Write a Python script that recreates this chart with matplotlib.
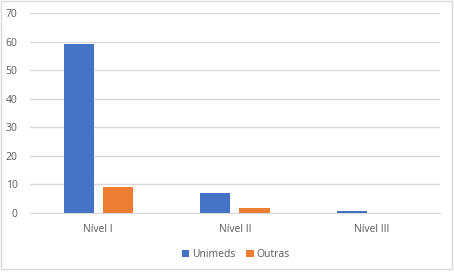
import numpy as np
import matplotlib
matplotlib.use('Agg')
import matplotlib.pyplot as plt
from matplotlib.patches import Rectangle

categorias = ['Nível I', 'Nível II', 'Nível III']
unimeds = [59, 7, 0.6]
outras = [9, 1.6, 0]

plt.rcParams['font.family'] = ['Open Sans', 'DejaVu Sans']

fig = plt.figure(figsize=(4.54, 2.72), dpi=100)
ax = fig.add_axes([0.066, 0.217, 0.903, 0.735])

x = np.arange(len(categorias))
w = 0.22
ax.bar(x - 0.143, unimeds, w, color='#4472C4', label='Unimeds', zorder=3)
ax.bar(x + 0.143, outras, w, color='#ED7D31', label='Outras', zorder=3)

ax.set_xlim(-0.5, 2.5)
ax.set_ylim(0, 70)
ax.set_yticks(range(0, 71, 10))
ax.set_xticks(x)
ax.set_xticklabels(categorias)
ax.grid(axis='y', color='#D9D9D9', linewidth=1, zorder=0)
for s in ['top', 'right', 'left']:
    ax.spines[s].set_visible(False)
ax.spines['bottom'].set_color('#D9D9D9')
ax.tick_params(axis='both', length=0, labelsize=7.5, colors='#595959', pad=9)
ax.tick_params(axis='x', pad=8)

fig.legend(loc='center', bbox_to_anchor=(0.52, 0.065), ncol=2, frameon=False,
           fontsize=7.5, handlelength=0.7, handleheight=0.7, handletextpad=0.3,
           columnspacing=1.0, labelcolor='#595959')

fig.patches.append(Rectangle((0.002, 0.01), 0.994, 0.985, transform=fig.transFigure,
                             fill=False, edgecolor='#D9D9D9', linewidth=1))

fig.savefig('out.png', dpi=100)
